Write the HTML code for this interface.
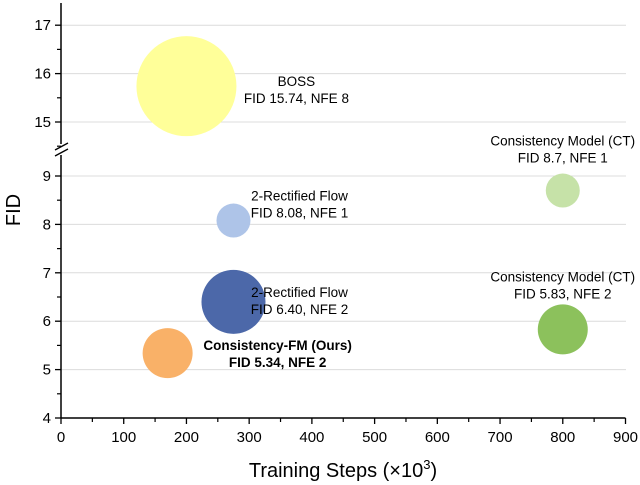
<!DOCTYPE html>
<html><head><meta charset="utf-8"><style>
body{margin:0;background:#fff}
svg{display:block;font-family:"Liberation Sans",sans-serif}
</style></head><body>
<svg id="chart" width="640" height="485">
<g id="grid"></g>
<g id="bubbles"></g>
<g id="axes"></g>
<g id="labels"></g>
<text x="20" y="210" font-size="20" text-anchor="middle" transform="rotate(-90 20 210)">FID</text>
<text x="343" y="477" font-size="20" text-anchor="middle">Training Steps (×10<tspan font-size="13" dy="-8">3</tspan><tspan dy="8">)</tspan></text>
</svg>
<script>
const names=["BOSS","2-Rectified Flow NFE1","2-Rectified Flow NFE2","Consistency-FM","CT NFE1","CT NFE2"];
const steps=[200,275,275,170,800,800];
const fids=[15.74,8.08,6.40,5.34,8.7,5.83];
const radii=[50,17,32,25,17,25];
const colors=["#ffff99","#aec4e8","#4c68a9","#f9b168","#c6e2a8","#8cc15c"];
const labelLines=[["BOSS","FID 15.74, NFE 8"],["2-Rectified Flow","FID 8.08, NFE 1"],["2-Rectified Flow","FID 6.40, NFE 2"],["Consistency-FM (Ours)","FID 5.34, NFE 2"],["Consistency Model (CT)","FID 8.7, NFE 1"],["Consistency Model (CT)","FID 5.83, NFE 2"]];
const labelOffsets=[[110,0],[66,-20],[66,-5],[110,-3],[0,-45],[0,-48]];
const xTicks=[0,100,200,300,400,500,600,700,800,900];
const yLow=[4,5,6,7,8,9];
const yHigh=[15,16,17];
const NS="http://www.w3.org/2000/svg";
const X0=61,X1=625.5,YB=418;
function xs(v){return X0+(v/900)*(X1-X0);}
function ys(v){return v>=12?122-(v-15)*48.4:YB-(v-4)*48.4;}
function mk(tag,attrs,parent,text){const e=document.createElementNS(NS,tag);for(const k in attrs)e.setAttribute(k,attrs[k]);if(text!==undefined)e.textContent=text;document.getElementById(parent).appendChild(e);return e;}
[...yLow,...yHigh].forEach(v=>{if(v===4)return;const g=mk('line',{x1:X0,x2:626,y1:ys(v),y2:ys(v),stroke:'#dcdcdc','stroke-width':1},'grid');

});
steps.forEach((s,i)=>{const c=mk('circle',{cx:xs(s),cy:ys(fids[i]),r:radii[i],fill:colors[i]},'bubbles');


const [dx,dy]=labelOffsets[i];const bold=i===3;
labelLines[i].forEach((t,j)=>{const tx=mk('text',{x:xs(s)+dx,y:ys(fids[i])+dy+j*17,'font-size':13.5,'text-anchor':'middle','font-weight':bold?'bold':'normal'},'labels',t);

});});
mk('line',{x1:X0,x2:X0,y1:3,y2:144,stroke:'#000','stroke-width':1.5},'axes');
mk('line',{x1:X0,x2:X0,y1:155,y2:YB,stroke:'#000','stroke-width':1.5},'axes');
mk('line',{x1:55,x2:68,y1:150,y2:143,stroke:'#000','stroke-width':1.3},'axes');
mk('line',{x1:55,x2:68,y1:156,y2:149,stroke:'#000','stroke-width':1.3},'axes');
mk('line',{x1:X0,x2:X1,y1:YB,y2:YB,stroke:'#000','stroke-width':1.5},'axes');
xTicks.forEach((v,i)=>{mk('line',{x1:xs(v),x2:xs(v),y1:YB,y2:YB+6,stroke:'#000','stroke-width':1.3},'axes');
if(i<xTicks.length-1)mk('line',{x1:xs(v+50),x2:xs(v+50),y1:YB,y2:YB+4,stroke:'#000','stroke-width':1.2},'axes');
const t=mk('text',{x:xs(v),y:YB+24,'font-size':15,'text-anchor':'middle'},'axes',v);

});
[...yLow,...yHigh].forEach(v=>{mk('line',{x1:X0-6,x2:X0,y1:ys(v),y2:ys(v),stroke:'#000','stroke-width':1.3},'axes');
if(v!==9&&v!==17)mk('line',{x1:X0-4,x2:X0,y1:ys(v+0.5),y2:ys(v+0.5),stroke:'#000','stroke-width':1.2},'axes');
const t=mk('text',{x:X0-10,y:ys(v)+5,'font-size':15,'text-anchor':'end'},'axes',v);

});
mk('line',{x1:X0-4,x2:X0,y1:ys(14.5),y2:ys(14.5),stroke:'#000','stroke-width':1.2},'axes');
</script>
</body></html>
